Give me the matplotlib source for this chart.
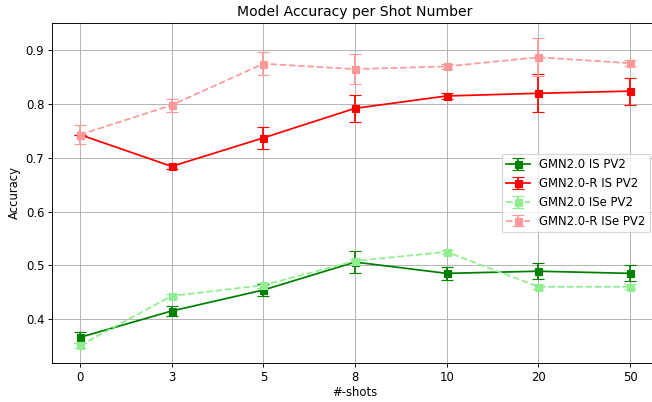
import numpy as np
import matplotlib.pyplot as plt

shots = ['0', '3', '5', '8', '10', '20', '50']

is_mean = [0.366, 0.415, 0.454, 0.506, 0.485, 0.489, 0.485]
is_err = [0.010, 0.010, 0.012, 0.021, 0.012, 0.015, 0.015]

r_is_mean = [0.743, 0.684, 0.737, 0.792, 0.815, 0.820, 0.824]
r_is_err = [0.000, 0.005, 0.021, 0.025, 0.005, 0.035, 0.025]

ise_mean = [0.351, 0.443, 0.463, 0.508, 0.525, 0.460, 0.460]
ise_err = [0.004, 0.004, 0.005, 0.004, 0.004, 0.005, 0.005]

r_ise_mean = [0.743, 0.798, 0.875, 0.865, 0.870, 0.887, 0.876]
r_ise_err = [0.018, 0.012, 0.021, 0.028, 0.005, 0.035, 0.005]

x = np.arange(len(shots))

dpi = 84
fig = plt.figure(figsize=(652 / dpi, 402 / dpi), dpi=dpi)
# the reference is cropped on the right, so the axes runs past the edge
ax = fig.add_axes([52.5 / 652, 39 / 402, 605 / 652, 340 / 402])

ax.errorbar(x, is_mean, yerr=is_err, color='green', marker='s',
            capsize=5, label='GMN2.0 IS PV2')
ax.errorbar(x, r_is_mean, yerr=r_is_err, color='red', marker='s',
            capsize=5, label='GMN2.0-R IS PV2')
ax.errorbar(x, ise_mean, yerr=ise_err, color='lightgreen', marker='s',
            linestyle='--', capsize=5, label='GMN2.0 ISe PV2')
ax.errorbar(x, r_ise_mean, yerr=r_ise_err, color='#ff9999', marker='s',
            linestyle='--', capsize=5, label='GMN2.0-R ISe PV2')

ax.set_xticks(x)
ax.set_xticklabels(shots)
ax.set_xlabel('#-shots', labelpad=2)
ax.set_ylabel('Accuracy')
ax.set_title('Model Accuracy per Shot Number')
ax.grid(True)
ax.legend(loc='center right', bbox_to_anchor=(0.997, 0.5))

plt.savefig('out.png', dpi=dpi)
